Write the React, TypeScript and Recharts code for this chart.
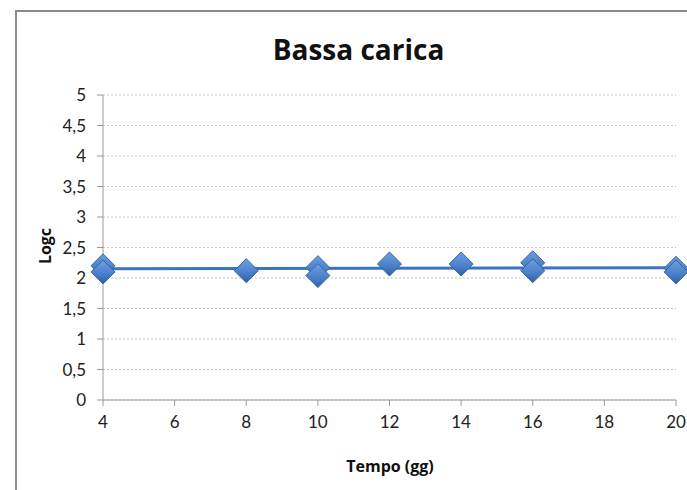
import React from 'react'
import {
  ScatterChart,
  Scatter,
  XAxis,
  YAxis,
  ZAxis,
  CartesianGrid,
} from 'recharts'

// measured points (tempo in giorni, log della carica)
const tempo = [4, 4, 8, 10, 10, 12, 14, 16, 16, 20, 20]
const logc = [2.2, 2.1, 2.12, 2.17, 2.04, 2.23, 2.23, 2.25, 2.12, 2.16, 2.1]

// trend line end points
const trendX = [4, 20]
const trendY = [2.15, 2.17]

const xTicks = [4, 6, 8, 10, 12, 14, 16, 18, 20]
const yTicks = [0, 0.5, 1, 1.5, 2, 2.5, 3, 3.5, 4, 4.5, 5]

const FONT = '"Open Sans", "Noto Sans", sans-serif'
const TICK_FONT = 'Lato, "Open Sans", sans-serif'

const points = tempo.map((t, i) => ({ x: t, y: logc[i] }))
const trend = trendX.map((t, i) => ({ x: t, y: trendY[i] }))

const comma = (v: number) => String(v).replace('.', ',')

const Diamond = (props: any) => {
  const { cx, cy } = props
  if (cx == null || cy == null) return null
  const w = 12
  const h = 12
  return (
    <polygon
      points={`${cx},${cy - h} ${cx + w},${cy} ${cx},${cy + h} ${cx - w},${cy}`}
      fill="url(#diamondFill)"
      stroke="#3465a4"
      strokeWidth={1}
    />
  )
}

export default function App() {
  return (
    <div
      style={{
        position: 'absolute',
        left: 0,
        top: 0,
        width: 687,
        height: 490,
        overflow: 'hidden',
        background: '#fff',
        fontFamily: FONT,
      }}
    >
      <div
        style={{
          position: 'absolute',
          left: 15,
          top: 10,
          width: 700,
          height: 520,
          border: '2px solid #8c8c8c',
          boxSizing: 'border-box',
        }}
      />
      <div
        style={{
          position: 'absolute',
          left: 15,
          width: 687,
          top: 30,
          textAlign: 'center',
          fontSize: 28,
          fontWeight: 'bold',
          color: '#111',
        }}
      >
        Bassa carica
      </div>
      <div
        style={{
          position: 'absolute',
          left: 45,
          top: 246,
          transform: 'translate(-50%, -50%) rotate(-90deg)',
          fontSize: 16,
          fontWeight: 'bold',
          color: '#111',
        }}
      >
        Logc
      </div>
      <div
        style={{
          position: 'absolute',
          left: 390,
          top: 466,
          transform: 'translate(-50%, -50%)',
          fontSize: 16,
          fontWeight: 'bold',
          color: '#111',
        }}
      >
        Tempo (gg)
      </div>
      <ScatterChart
        width={687}
        height={490}
        margin={{ top: 95, right: 11, bottom: 60, left: 43 }}
        style={{ position: 'absolute', left: 0, top: 0 }}
      >
        <defs>
          <linearGradient id="diamondFill" x1="0" y1="0" x2="0" y2="1">
            <stop offset="0%" stopColor="#6d9ee0" />
            <stop offset="60%" stopColor="#4a7fc8" />
            <stop offset="100%" stopColor="#2f5f9e" />
          </linearGradient>
        </defs>
        <CartesianGrid
          vertical={false}
          stroke="#c4c4c4"
          strokeDasharray="2 2"
        />
        <XAxis
          type="number"
          dataKey="x"
          domain={[4, 20]}
          ticks={xTicks}
          height={30}
          stroke="#9a9a9a"
          tickSize={6}
          tickMargin={10}
          tick={{ fill: '#222', fontSize: 17, fontFamily: TICK_FONT }}
        />
        <YAxis
          type="number"
          dataKey="y"
          domain={[0, 5]}
          ticks={yTicks}
          width={60}
          stroke="#9a9a9a"
          tickSize={6}
          tickMargin={11}
          tickFormatter={comma}
          tick={{ fill: '#222', fontSize: 17, fontFamily: TICK_FONT }}
        />
        <ZAxis range={[140, 140]} />
        <Scatter
          data={trend}
          line={{ stroke: '#3b74c0', strokeWidth: 3 }}
          shape={() => null}
          isAnimationActive={false}
        />
        <Scatter
          data={points}
          shape={<Diamond />}
          isAnimationActive={false}
        />
      </ScatterChart>
    </div>
  )
}
